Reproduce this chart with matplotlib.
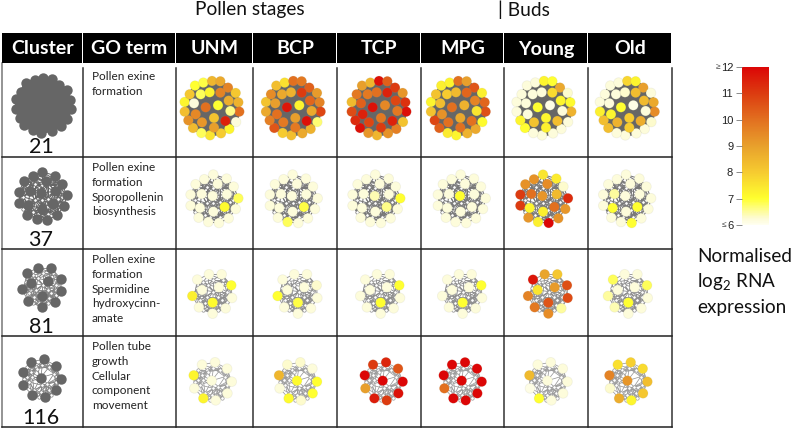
import matplotlib
matplotlib.use('Agg')
import matplotlib.pyplot as plt
from matplotlib.cm import ScalarMappable
from matplotlib.collections import LineCollection
from matplotlib.colors import LinearSegmentedColormap, Normalize
from matplotlib.patches import Rectangle
from itertools import combinations

plt.rcParams['font.family'] = ['Lato', 'DejaVu Sans']
plt.rcParams['mathtext.fontset'] = 'custom'
plt.rcParams['mathtext.rm'] = 'Lato'

stages = ['UNM', 'BCP', 'TCP', 'MPG', 'Young', 'Old']
clusters = ['21', '37', '81', '116']
go_terms = ['Pollen exine\nformation',
            'Pollen exine\nformation\nSporopollenin\nbiosynthesis',
            'Pollen exine\nformation\nSpermidine\nhydroxycinn-\namate',
            'Pollen tube\ngrowth\nCellular\ncomponent\nmovement']

# node layouts, read at 3x zoom (divide by 3 for pixels)
x21 = [75, 100, 126, 151, 174, 197, 205, 208, 198, 178, 153, 120, 94, 69, 55, 44, 44, 59,
       92, 119, 151, 176, 72, 107, 144, 181, 77, 96, 132, 166, 132]
y21 = [77, 68, 63, 64, 83, 99, 127, 155, 186, 207, 220, 226, 219, 204, 181, 155, 126, 103,
       103, 97, 98, 122, 130, 142, 136, 153, 163, 187, 174, 183, 203]
x37 = [130, 170, 191, 205, 197, 176, 147, 115, 86, 62, 62, 77, 103, 143, 95, 128, 171, 90, 130, 164]
y37 = [344, 356, 380, 415, 447, 475, 489, 486, 473, 437, 404, 373, 358, 372, 402, 408, 403, 444, 455, 441]
x81 = [117, 155, 184, 186, 167, 128, 87, 67, 82, 96, 147, 128]
y81 = [88, 88, 121, 159, 190, 206, 187, 153, 104, 135, 127, 173]
x116 = [96, 135, 171, 185, 172, 137, 100, 73, 71, 125]
y116 = [359, 352, 371, 410, 445, 466, 460, 430, 391, 407]

# small unlabelled nodes that only carry edges
hx37 = [110, 150, 180, 110, 150, 180, 85, 130, 105, 150, 75, 190, 130, 95, 165, 120, 145, 75, 185]
hy37 = [380, 380, 425, 430, 425, 385, 385, 385, 465, 470, 420, 420, 430, 365, 365, 470, 450, 455, 440]
hx81 = [100, 130, 160, 170, 110, 145, 90, 170, 120, 150, 105, 130, 80, 155, 75, 175, 145, 100, 115, 170]
hy81 = [110, 105, 105, 140, 155, 155, 165, 170, 195, 180, 175, 140, 130, 165, 145, 115, 195, 195, 120, 155]
hx116 = [110, 150, 165, 95, 90, 105, 125, 150, 170, 115, 145, 85, 130, 160, 100, 130, 75, 180, 120, 155, 85, 165]
hy116 = [375, 375, 395, 390, 420, 445, 450, 445, 420, 380, 425, 405, 370, 440, 405, 430, 410, 405, 465, 460, 375, 380]

# centres of the node layouts in the zoomed units
c21 = (126, 145)
c37 = (130, 415)
c81 = (127, 145)
c116 = (128, 408)

# panel centres in pixels
px21 = [212, 293.3, 379, 458.3, 544, 627.3]
py21 = 108.3
px37 = [213.3, 292.6, 375.3, 460.6, 543, 626]
py37 = 198.3
px81 = [212.3, 297.6, 380.3, 462.3, 548, 628]
py81 = 293.3
px116 = [212.7, 298, 383.7, 462.7, 548.4, 628.4]
py116 = 381

cluster_x = [43.3, 41.7, 41.7, 41.7]
cluster_y = [105.5, 195.3, 286.7, 378]

v21 = [
    [7, 6.9, 8.5, 8.8, 9.6, 8.1, 8.6, 10, 6.2, 7.2, 8, 7.5, 6.8, 8.4, 9.3, 8.3, 7.2, 8.1,
     6.8, 7.2, 9.6, 8.7, 6.2, 10, 7, 6.6, 9.5, 9.2, 8.2, 11.5, 9],
    [8.3, 7.6, 10, 9.8, 10.3, 9.1, 9.6, 10.8, 6.7, 8.6, 8.8, 8.3, 8, 10.5, 9.7, 8.8, 8.2, 9.4,
     8.8, 8.6, 11, 10.2, 9, 11.7, 7.2, 8.8, 10, 9.8, 9, 11.8, 9.8],
    [9, 8.5, 11.8, 10.3, 11, 9.2, 11.2, 11.8, 8.2, 9.7, 9.3, 8.5, 9.2, 11.8, 11.3, 10.7, 8.4, 9.8,
     9.8, 10, 11.5, 10.8, 10.3, 11.8, 9.5, 9.8, 11.5, 10.8, 9.8, 11.5, 11],
    [7.3, 7.2, 10, 9, 10.5, 7.3, 10.2, 10.6, 7.1, 8.8, 8.6, 7.2, 7.4, 10.3, 10.8, 8.2, 7.2, 8.2,
     8, 8.4, 10.2, 9.6, 8.3, 10, 8.6, 7.5, 9.3, 10, 8.8, 10, 10],
    [6.2, 6.2, 7.2, 7, 8.8, 6.3, 7.1, 8.6, 6.2, 6.2, 6.2, 6.2, 6.2, 7, 7.2, 6.2, 6.2, 6.2,
     6.2, 6.2, 7.7, 7.2, 6.2, 7, 6.1, 6.2, 6.2, 8.2, 7.2, 8.3, 7.3],
    [6.2, 6.2, 7.8, 7.2, 9, 6.2, 8.8, 9.4, 6.3, 6.2, 6.2, 6.2, 6.2, 8.3, 8.3, 7.3, 6.2, 6.2,
     6.2, 6.3, 8.3, 8.4, 6.2, 7, 6.1, 6.2, 7.2, 8.6, 8, 8.7, 8],
]
v37 = [
    [6.2, 6.2, 6.2, 6.8, 6.2, 6.2, 6.2, 6.2, 6.2, 6.2, 6.2, 6.2, 6.2, 6.2, 6.2, 6.2, 6.2, 6.2, 6.2, 7.1],
    [6.2, 6.2, 6.2, 6.2, 6.2, 6.2, 6.2, 6.8, 6.2, 6.2, 6.2, 6.2, 6.2, 6.2, 6.2, 6.2, 6.2, 6.2, 6.2, 6.9],
    [6.2, 6.2, 6.2, 7, 6.2, 6.2, 6.2, 6.2, 6.2, 6.2, 6.2, 6.2, 6.2, 6.2, 6.2, 6.4, 6.2, 6.2, 6.2, 6.6],
    [6.2, 6.2, 6.2, 6.2, 6.2, 6.2, 6.2, 6.2, 6.2, 6.2, 6.2, 6.2, 6.2, 6.2, 6.2, 7, 6.2, 6.2, 6.2, 6.2],
    [7.5, 7.4, 6.3, 11.3, 9.2, 9.3, 12, 7.3, 9.2, 11, 11, 9.3, 9.3, 9.4, 10, 9.2, 8.4, 7.2, 7.3, 10],
    [6.2, 6.2, 6.2, 6.2, 6.2, 6.2, 7, 6.2, 6.2, 6.2, 6.2, 6.2, 6.2, 6.2, 6.5, 6.2, 6.2, 7, 6.2, 7],
]
v81 = [
    [6.2, 6.2, 7, 6.2, 6.2, 6.2, 6.2, 7.3, 6.2, 6.2, 6.2, 7.1],
    [6.2, 6.2, 6.3, 6.2, 6.2, 6.2, 6.2, 7, 6.2, 6.2, 6.2, 6.9],
    [6.2, 6.2, 7, 6.2, 6.2, 6.2, 6.2, 6.2, 6.2, 6.2, 6.2, 7],
    [6.2, 6.2, 7, 6.2, 6.2, 6.2, 6.2, 6.2, 6.2, 6.2, 6.2, 7],
    [8.9, 8.1, 10.6, 10.7, 6.5, 9.4, 9.8, 9.6, 11.7, 7.5, 9.1, 10.5],
    [6.2, 6.2, 6.8, 6.2, 6.2, 6.2, 6.4, 6.5, 6.8, 6.2, 6.2, 7],
]
v116 = [
    [6.2, 6.2, 6.2, 6.2, 6.2, 6.2, 7.2, 6.2, 7.2, 6.2],
    [6.3, 6.3, 6.2, 7, 7, 6.3, 7.1, 6.2, 8.5, 7.1],
    [11, 11.4, 10.5, 12, 11.8, 11, 11.6, 9, 12, 12],
    [12, 12, 12, 12, 12, 12, 12, 10, 12, 12],
    [6.2, 6.2, 6.2, 6.2, 6.2, 6.2, 7, 6.1, 8.4, 6.2],
    [7.6, 7.9, 7.7, 8.3, 8.1, 7.2, 8.7, 6.3, 9.6, 9.2],
]

# ramp
ramp_vals = [6, 6.25, 7, 8, 9, 10, 11, 12]
ramp_cols = ['#fffff0', '#fdfbd4', '#ffff2e', '#f6cb30', '#e8a02c', '#e27020', '#dc3c10', '#dc0606']

# grid lines and header, pixels
col_edges = [2, 83, 176, 253, 337, 421, 504, 588, 672]
row_edges = [63, 157, 248.5, 335.7, 427]
header_top = 33
header_bot = 63

GREY = '#666666'

cmap = LinearSegmentedColormap.from_list('expr', [((v - 6) / 6, c) for v, c in zip(ramp_vals, ramp_cols)])
norm = Normalize(6, 12)

fig = plt.figure(figsize=(7.95, 4.29), dpi=100)
ax = fig.add_axes([0, 0, 1, 1])
ax.set_xlim(0, 795)
ax.set_ylim(429, 0)
ax.axis('off')


def draw_net(cx, cy, xs, ys, hx, hy, centre, lw, ecol, vals=None, max_len=None):
    all_x = [cx + (x - centre[0]) / 3 for x in list(xs) + list(hx)]
    all_y = [cy + (y - centre[1]) / 3 for y in list(ys) + list(hy)]
    segs = []
    for i, j in combinations(range(len(all_x)), 2):
        d = ((all_x[i] - all_x[j]) ** 2 + (all_y[i] - all_y[j]) ** 2) ** 0.5
        if max_len is None or d < max_len:
            segs.append([(all_x[i], all_y[i]), (all_x[j], all_y[j])])
    ax.add_collection(LineCollection(segs, colors=ecol, linewidths=lw, zorder=2))
    nx = all_x[:len(xs)]
    ny = all_y[:len(ys)]
    if len(hx):
        ax.scatter(all_x[len(xs):], all_y[len(ys):], s=6, color='white', edgecolors=ecol,
                   linewidths=0.5, zorder=2.5)
    if vals is None:
        ax.scatter(nx, ny, s=56, color=GREY, linewidths=0, zorder=3)
    else:
        ax.scatter(nx, ny, s=50, c=vals, cmap=cmap, norm=norm, edgecolors='#a0a08020',
                   linewidths=0.6, zorder=3)


nets = [(x21, y21, [], [], c21, px21, py21, v21, 2.0, GREY, None),
        (x37, y37, hx37, hy37, c37, px37, py37, v37, 0.75, '#787878', 18),
        (x81, y81, hx81, hy81, c81, px81, py81, v81, 0.6, '#8c8c8c', 16),
        (x116, y116, hx116, hy116, c116, px116, py116, v116, 0.55, '#9a9a9a', 15)]

for r, (xs, ys, hx, hy, cen, pxs, py, vals, lw, ecol, mlen) in enumerate(nets):
    draw_net(cluster_x[r], cluster_y[r], xs, ys, hx, hy, cen, lw, GREY if r < 2 else '#808080', None, mlen)
    for c in range(len(stages)):
        draw_net(pxs[c], py, xs, ys, hx, hy, cen, lw, ecol, vals[c], mlen)

# header band
for c in range(len(col_edges) - 1):
    ax.add_patch(Rectangle((col_edges[c], header_top), col_edges[c + 1] - col_edges[c] - 1,
                           header_bot - header_top, facecolor='black', edgecolor='none', zorder=4))
heads = ['Cluster', 'GO term'] + stages
for c, h in enumerate(heads):
    ax.text((col_edges[c] + col_edges[c + 1]) / 2, 49, h, color='white', fontsize=14, fontweight='bold',
            ha='center', va='center', zorder=5)

# grid
for x in col_edges:
    ax.plot([x, x], [68 if x > 2 else header_bot, row_edges[-1]], color='#333333' if x > 2 else '#777777',
            lw=1.1, zorder=1)
for y in row_edges[1:]:
    ax.plot([2, col_edges[-1]], [y, y], color='#222222', lw=1.1, zorder=1)

# cluster numbers and GO terms
num_y = [147, 240, 327, 418]
go_y = [71, 162, 254, 341]
for r in range(len(clusters)):
    ax.text(41, num_y[r], clusters[r], fontsize=15.5, ha='center', va='center', color='#111111', zorder=5)
    ax.text(92, go_y[r], go_terms[r], fontsize=8.5, ha='left', va='top', color='#222222',
            linespacing=1.42, zorder=5)

ax.text(250, 10, 'Pollen stages', fontsize=13.8, ha='center', va='center', color='#111111')
ax.text(498, 10, '| Buds', fontsize=13.8, ha='left', va='center', color='#111111')

ax.text(697, 257, 'Normalised', fontsize=13.6, ha='left', va='center', color='#111111')
ax.text(697, 282, 'log$_2$ RNA', fontsize=13.6, ha='left', va='center', color='#111111')
ax.text(697, 307, 'expression', fontsize=13.6, ha='left', va='center', color='#111111')

# colour bar
cax = fig.add_axes([741.5 / 795, 1 - 225 / 429, 27.5 / 795, 158 / 429])
cb = fig.colorbar(ScalarMappable(norm=norm, cmap=cmap), cax=cax)
cb.outline.set_visible(False)
cb.ax.yaxis.set_ticks_position('left')
cb.set_ticks([6, 7, 8, 9, 10, 11, 12])
cb.set_ticklabels(['6', '7', '8', '9', '10', '11', '12'], family='Liberation Sans', fontsize=8, color='#222222')
cb.ax.tick_params(length=4, width=0.6, color='#777777', pad=2)
ax.text(718, 67.5, '\u2265', fontsize=6, family='Liberation Sans', ha='center', va='center', color='#444444')
ax.text(724, 225.5, '\u2264', fontsize=6, family='Liberation Sans', ha='center', va='center', color='#444444')

fig.savefig('out.png', dpi=100)
